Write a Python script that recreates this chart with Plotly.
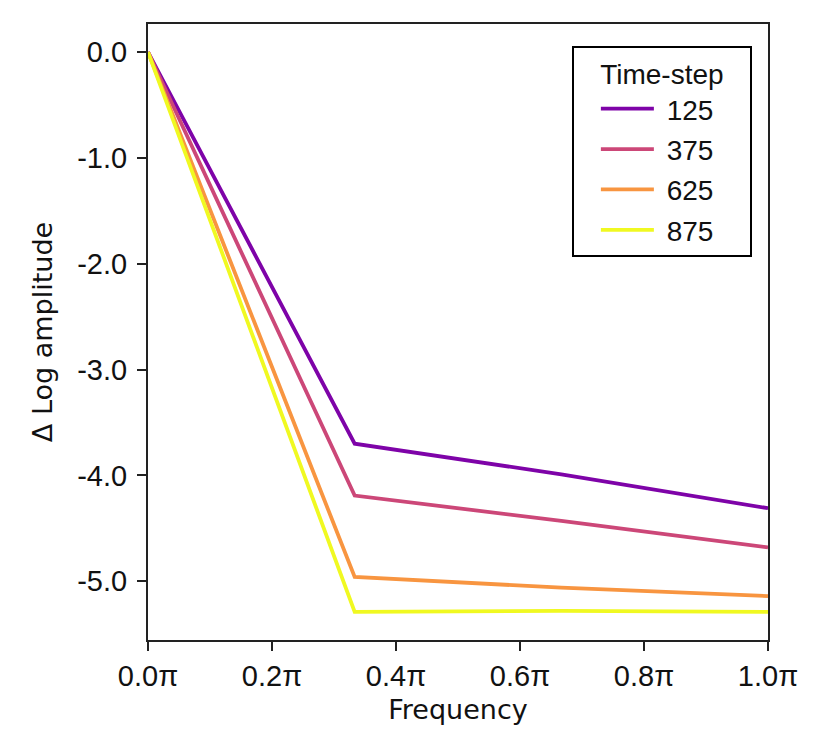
import plotly.graph_objects as go

# frequency in units of pi
freq = [0.0, 1 / 3, 2 / 3, 1.0]
timesteps = ["125", "375", "625", "875"]
amp_125 = [0.0, -3.70, -3.99, -4.31]
amp_375 = [0.0, -4.19, -4.43, -4.68]
amp_625 = [0.0, -4.96, -5.06, -5.14]
amp_875 = [0.0, -5.29, -5.28, -5.29]
x_ticks = [0.0, 0.2, 0.4, 0.6, 0.8, 1.0]
x_labels = ["0.0π", "0.2π", "0.4π", "0.6π", "0.8π", "1.0π"]
y_ticks = [0, -1, -2, -3, -4, -5]
y_labels = ["0.0", "-1.0", "-2.0", "-3.0", "-4.0", "-5.0"]

colors = ["#7e03a8", "#cc4778", "#f89540", "#f0f921"]
series = [amp_125, amp_375, amp_625, amp_875]

nb = "\u00a0"  # non-breaking spaces pad the legend entries like the original box

fig = go.Figure()
for name, vals, col in zip(timesteps, series, colors):
    fig.add_trace(go.Scatter(
        x=freq, y=vals, mode="lines",
        name=nb + name + nb * 4,
        legendgroup=name,
        line=dict(color=col, width=3.8),
    ))

axis_style = dict(
    showline=True, linecolor="#222", linewidth=2, mirror=True,
    ticks="outside", ticklen=9, tickwidth=2, tickcolor="#222",
    showgrid=False, zeroline=False,
    tickfont=dict(family="Liberation Sans, Arial", size=29, color="#111"),
)
title_font = dict(family="DejaVu Sans", size=27, color="#111")

fig.update_xaxes(
    range=[0, 1], tickvals=x_ticks, ticktext=x_labels,
    title=dict(text="Frequency", font=title_font, standoff=9),
    **axis_style
)
fig.update_yaxes(
    range=[-5.555, 0.265], tickvals=y_ticks, ticktext=y_labels,
    ticklabelstandoff=4,
    title=dict(text="Δ Log amplitude", font=title_font, standoff=17),
    **axis_style
)

fig.update_layout(
    width=830, height=750,
    margin=dict(l=140, r=70, t=16, b=118),
    plot_bgcolor="white", paper_bgcolor="white",
    font=dict(family="Liberation Sans, Arial, sans-serif", color="#111"),
    legend=dict(
        title=dict(text="Time-step", side="top center", font=dict(size=28)),
        x=0.974, y=0.965, xanchor="right", yanchor="top",
        bordercolor="black", borderwidth=2, bgcolor="white",
        font=dict(size=28), tracegroupgap=1,
        indentation=22, itemwidth=53,
    ),
)

fig.write_html("out.html")
